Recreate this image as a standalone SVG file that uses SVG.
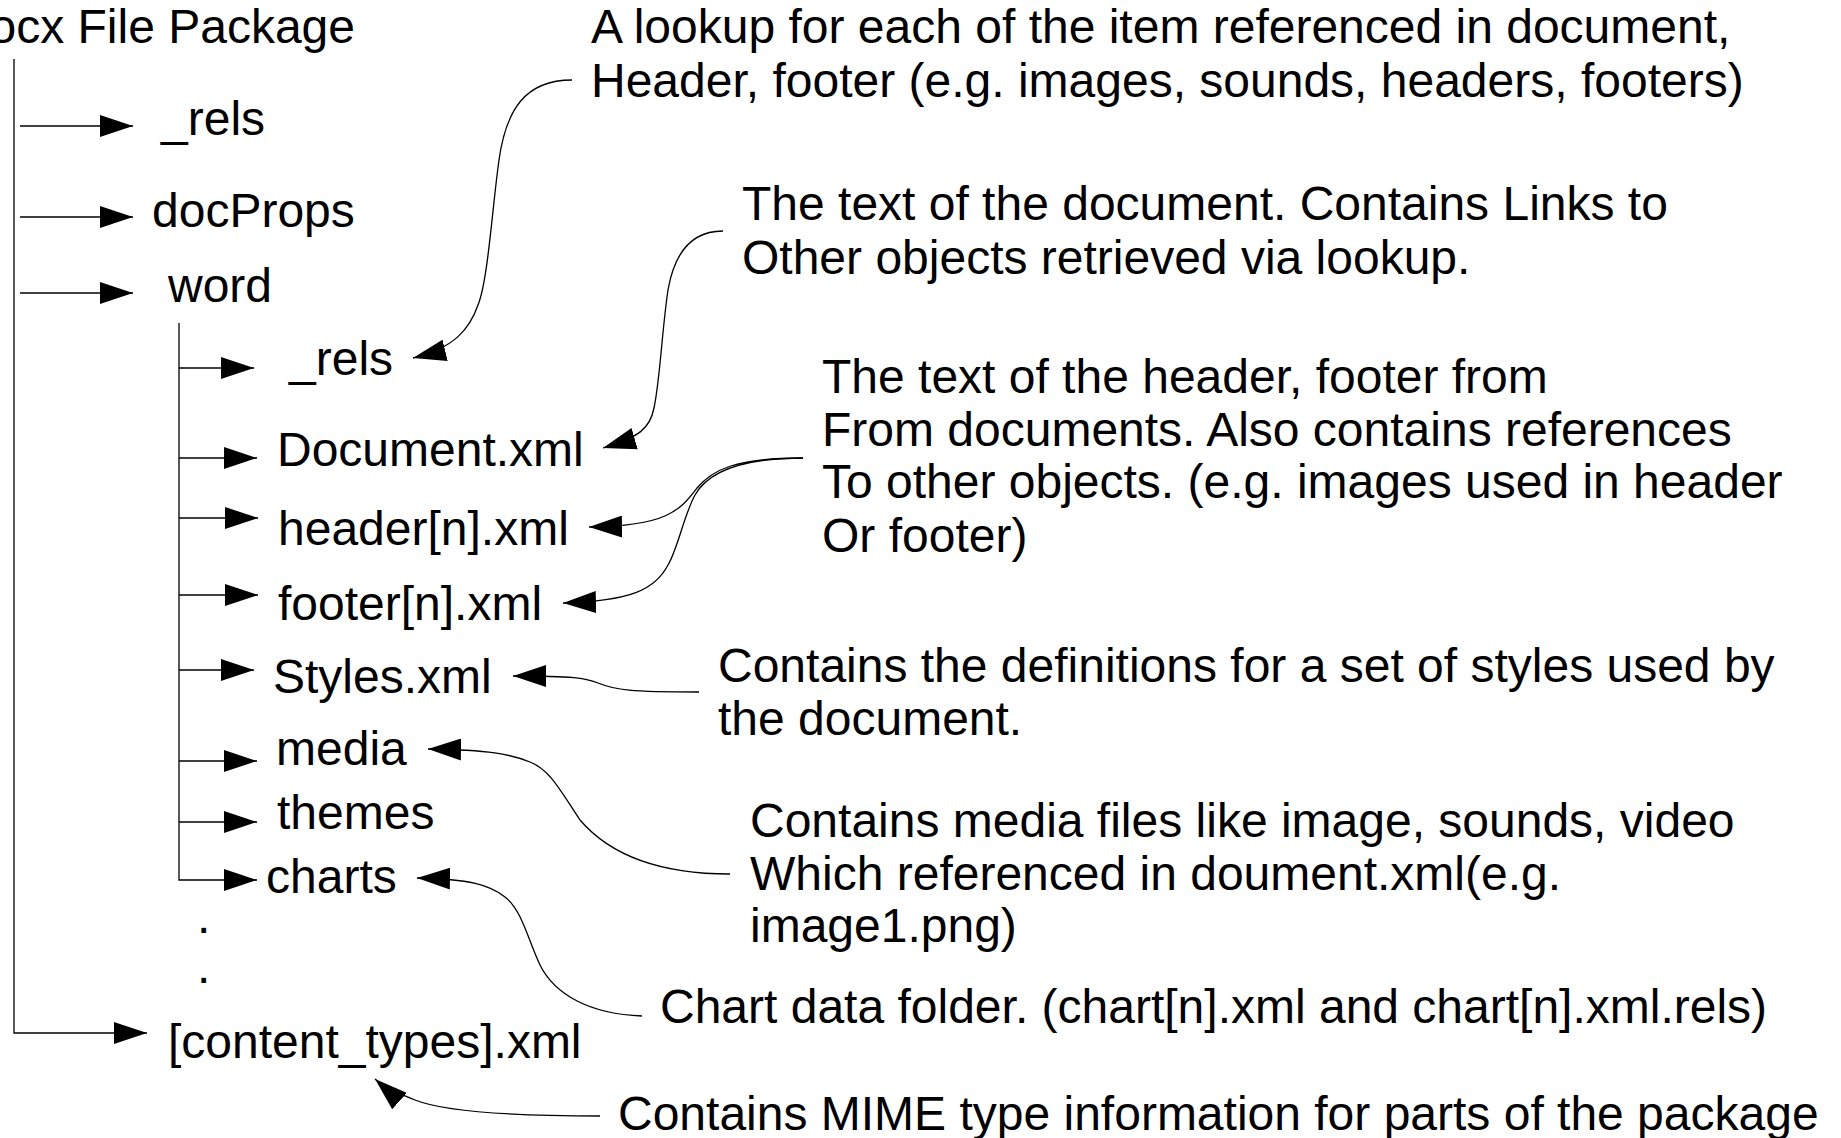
<svg xmlns="http://www.w3.org/2000/svg" width="1841" height="1138" viewBox="0 0 1841 1138">
<style>
text{font-family:"Liberation Sans",Arial,sans-serif;font-size:48px;fill:#000}
.tree{stroke:#000;stroke-width:1.3;fill:none}
.conn{stroke:#000;stroke-width:1.3;fill:none}
</style>
<defs>
<marker id="ah" viewBox="0 0 33 22" refX="33" refY="11" markerWidth="33" markerHeight="22" markerUnits="userSpaceOnUse" orient="auto">
<path d="M0,0 L33,11 L0,22 z" fill="#000"/>
</marker>
</defs>
<rect width="1841" height="1138" fill="#fff"/>
<g id="connectors">
<g id="tree-lines">
<path class="tree" d="M14,59 V1033 H147" marker-end="url(#ah)"/>
<path class="tree" d="M20,126 H133" marker-end="url(#ah)"/>
<path class="tree" d="M20,217 H133" marker-end="url(#ah)"/>
<path class="tree" d="M20,293 H133" marker-end="url(#ah)"/>
<path class="tree" d="M179,323 V880 H257" marker-end="url(#ah)"/>
<path class="tree" d="M179,368 H254" marker-end="url(#ah)"/>
<path class="tree" d="M179,458 H257" marker-end="url(#ah)"/>
<path class="tree" d="M179,518 H258" marker-end="url(#ah)"/>
<path class="tree" d="M179,595 H258" marker-end="url(#ah)"/>
<path class="tree" d="M179,670 H254" marker-end="url(#ah)"/>
<path class="tree" d="M179,761 H257" marker-end="url(#ah)"/>
<path class="tree" d="M179,822 H257" marker-end="url(#ah)"/>
</g>
<g id="annotation-links">
<path class="conn" d="M572,80 C525,80 506,110 499,160 C492,210 488,280 478,305 C470,328 455,348 413,358" marker-end="url(#ah)"/>
<path class="conn" d="M723,231 C690,231 674,255 668,290 C662,330 660,380 654,408 C650,428 640,437 603,448" marker-end="url(#ah)"/>
<path class="conn" d="M803,458 C735,458 712,470 697,488 C680,510 668,526 589,527" marker-end="url(#ah)"/>
<path class="conn" d="M803,458 C740,458 708,472 695,495 C684,515 678,548 668,565 C655,590 630,601 563,603" marker-end="url(#ah)"/>
<path class="conn" d="M699,692 C630,692 615,690 598,683 C585,678 575,676 513,676" marker-end="url(#ah)"/>
<path class="conn" d="M730,874 C660,874 610,855 580,820 C560,790 550,770 530,762 C510,754 490,750 428,749" marker-end="url(#ah)"/>
<path class="conn" d="M642,1016 C590,1014 555,995 540,965 C528,940 522,910 505,897 C490,885 470,879 417,878" marker-end="url(#ah)"/>
<path class="conn" d="M600,1116 C500,1116 440,1110 415,1100 C400,1094 385,1088 375,1079" marker-end="url(#ah)"/>
</g>
</g>
<g id="node-root"><text x="355" y="43" text-anchor="end">docx File Package</text></g>
<g id="node-rels"><text x="161" y="135">_rels</text></g>
<g id="node-docProps"><text x="152" y="227">docProps</text></g>
<g id="node-word"><text x="168" y="302">word</text></g>
<g id="node-word-rels"><text x="289" y="375">_rels</text></g>
<g id="node-document"><text x="277" y="466">Document.xml</text></g>
<g id="node-header"><text x="278" y="545">header[n].xml</text></g>
<g id="node-footer"><text x="278" y="620">footer[n].xml</text></g>
<g id="node-styles"><text x="273" y="693">Styles.xml</text></g>
<g id="node-media"><text x="276" y="765">media</text></g>
<g id="node-themes"><text x="277" y="829">themes</text></g>
<g id="node-charts"><text x="266" y="893">charts</text></g>
<g id="node-dots"><text x="197" y="933">.</text><text x="197" y="983">.</text></g>
<g id="node-content-types"><text x="168" y="1058">[content_types].xml</text></g>
<g id="note-rels">
<text x="591" y="43">A lookup for each of the item referenced in document,</text>
<text x="591" y="97">Header, footer (e.g. images, sounds, headers, footers)</text>
</g>
<g id="note-document">
<text x="742" y="220">The text of the document. Contains Links to</text>
<text x="742" y="274">Other objects retrieved via lookup.</text>
</g>
<g id="note-header-footer">
<text x="822" y="393">The text of the header, footer from</text>
<text x="822" y="446">From documents. Also contains references</text>
<text x="822" y="498">To other objects. (e.g. images used in header</text>
<text x="822" y="552">Or footer)</text>
</g>
<g id="note-styles">
<text x="718" y="682">Contains the definitions for a set of styles used by</text>
<text x="718" y="735">the document.</text>
</g>
<g id="note-media">
<text x="750" y="837">Contains media files like image, sounds, video</text>
<text x="750" y="890">Which referenced in doument.xml(e.g.</text>
<text x="750" y="942">image1.png)</text>
</g>
<g id="note-charts"><text x="660" y="1023">Chart data folder. (chart[n].xml and chart[n].xml.rels)</text></g>
<g id="note-content-types"><text x="618" y="1130">Contains MIME type information for parts of the package</text></g>
</svg>
